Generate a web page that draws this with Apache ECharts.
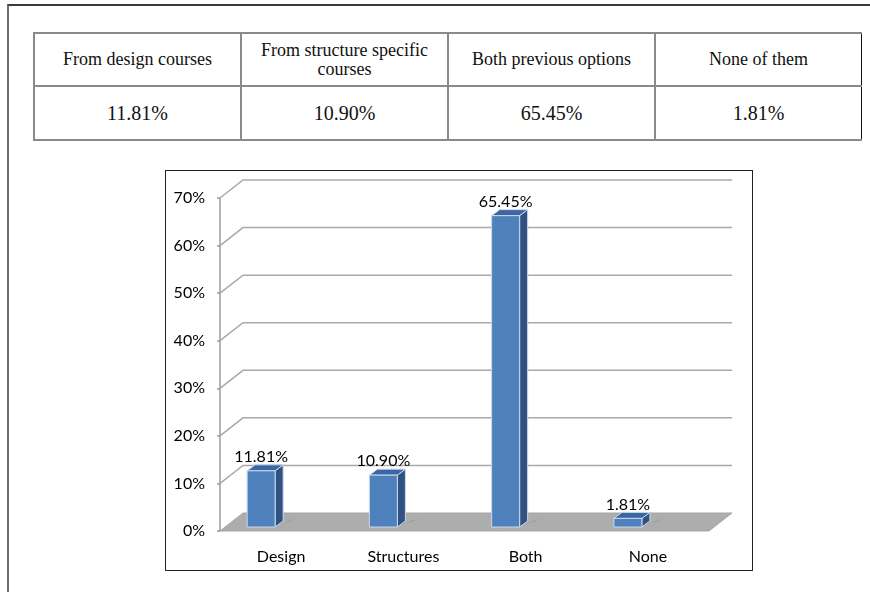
<!DOCTYPE html>
<html>
<head>
<meta charset="utf-8">
<script src="https://cdn.jsdelivr.net/npm/echarts@6/dist/echarts.min.js"></script>
<style>
  html, body { margin: 0; padding: 0; background: #fff; }
  body { width: 870px; height: 592px; position: relative; overflow: hidden; }
  #frame { position: absolute; left: 7px; top: 4px; width: 880px; height: 600px;
           border-top: 2px solid #3a3a3a; border-left: 2px solid #6e6e6e; }
  table { position: absolute; left: 33px; top: 32px; border-collapse: collapse; }
  td { width: 205px; text-align: center; padding: 0; border: 2px solid #8a8a8a;
       font-family: "Liberation Serif", "Times New Roman", serif; color: #111;
       font-size: 18px; line-height: 19px; }
  tr.head td { height: 51px; border-bottom: 1px solid #111; }
  tr.vals td { height: 52px; font-size: 20px; }
  td.last { border-right: 1px solid #111; }
  #chart { position: absolute; left: 165px; top: 170px; width: 586px; height: 399px;
           border: 1px solid #222; }
</style>
</head>
<body>
<div id="frame"></div>
<table id="tbl"></table>
<div id="chart"></div>
<script>
// Survey answers: where the respondents learned it
const headers = ['From design courses', 'From structure specific<br>courses', 'Both previous options', 'None of them'];
const categories = ['Design', 'Structures', 'Both', 'None'];
const shares = [11.81, 10.90, 65.45, 1.81];
const yTicks = [0, 10, 20, 30, 40, 50, 60, 70];

// Summary table above the chart
const tbl = document.getElementById('tbl');
const headRow = tbl.insertRow();
headRow.className = 'head';
const valRow = tbl.insertRow();
valRow.className = 'vals';
headers.forEach((h, i) => {
  const a = headRow.insertCell(); a.innerHTML = h;
  const b = valRow.insertCell(); b.textContent = shares[i].toFixed(2) + '%';
  if (i === headers.length - 1) { a.className = 'last'; b.className = 'last'; }
});

// Pseudo-3D column chart
const DX = 23, DY = 18;          // depth of the back wall
const BAR_W = 28, BAR_DX = 8, BAR_DY = 6, LIFT = 4, SHIFT = 34;
const FONT = 'Lato, "Open Sans", sans-serif';

const chart = echarts.init(document.getElementById('chart'), null, { renderer: 'canvas' });
chart.setOption({
  animation: false,
  grid: { left: 54, top: 27, width: 489, height: 333 },
  xAxis: {
    type: 'category', data: categories,
    axisLine: { show: false }, axisTick: { show: false },
    axisLabel: { color: '#000', fontSize: 16, fontFamily: FONT, margin: 18 }
  },
  yAxis: {
    type: 'value', min: 0, max: 70, interval: 10,
    axisLine: { show: true, lineStyle: { color: '#9c9c9c', width: 1.5 } },
    axisTick: { show: true, length: 3, lineStyle: { color: '#9c9c9c', width: 1.5 } },
    splitLine: { show: false },
    axisLabel: { color: '#000', fontSize: 16, fontFamily: FONT, margin: 15, formatter: '{value}%' }
  },
  series: [
    {
      // back wall gridlines and floor
      type: 'custom', silent: true, z: 1,
      data: yTicks.map(v => [0, v]),
      renderItem: function (params, api) {
        const cs = params.coordSys;
        const y = api.coord([0, api.value(1)])[1];
        const x0 = cs.x, x1 = cs.x + cs.width;
        if (api.value(1) === 0) {
          return {
            type: 'polygon',
            shape: { points: [[x0, y], [x0 + DX, y - DY], [x1 + DX, y - DY], [x1, y]] },
            style: { fill: '#adadad', stroke: '#a5a5a5', lineWidth: 1 }
          };
        }
        return {
          type: 'polyline',
          shape: { points: [[x0, y], [x0 + DX, y - DY], [x1 + DX, y - DY]] },
          style: { stroke: '#a9a9a9', lineWidth: 1.5, fill: null }
        };
      }
    },
    {
      // columns
      type: 'custom', z: 3,
      data: shares.map((v, i) => [i, v]),
      renderItem: function (params, api) {
        const i = api.value(0), v = api.value(1);
        const top = api.coord([i, v]);
        const base = api.coord([i, 0]);
        const cx = top[0];
        const l = cx - SHIFT, r = l + BAR_W;
        const yt = top[1] - LIFT, yb = base[1] - LIFT;
        const edge = '#c9d9ee';
        return {
          type: 'group',
          children: [
            {
              type: 'polygon',
              shape: { points: [[l + 4, yb + 2], [r + BAR_DX + 6, yb - BAR_DY + 1], [r + BAR_DX + 14, yb - BAR_DY - 3], [r + 6, yb - 3]] },
              style: { fill: 'rgba(90,90,90,0.25)' }
            },
            {
              type: 'polygon',
              shape: { points: [[r, yt], [r + BAR_DX, yt - BAR_DY], [r + BAR_DX, yb - BAR_DY], [r, yb]] },
              style: { fill: '#2f5283', stroke: edge, lineWidth: 1 }
            },
            {
              type: 'polygon',
              shape: { points: [[l, yt], [l + BAR_DX, yt - BAR_DY], [r + BAR_DX, yt - BAR_DY], [r, yt]] },
              style: { fill: '#3b66a1', stroke: edge, lineWidth: 1 }
            },
            {
              type: 'rect',
              shape: { x: l, y: yt, width: BAR_W, height: yb - yt },
              style: { fill: '#4f81bd', stroke: edge, lineWidth: 1 }
            },
            {
              type: 'text',
              style: {
                x: l + BAR_W / 2, y: yt - 14,
                text: v.toFixed(2) + '%',
                align: 'center', verticalAlign: 'middle',
                fill: '#000', fontSize: 16, fontFamily: FONT
              }
            }
          ]
        };
      }
    }
  ]
});
</script>
</body>
</html>
